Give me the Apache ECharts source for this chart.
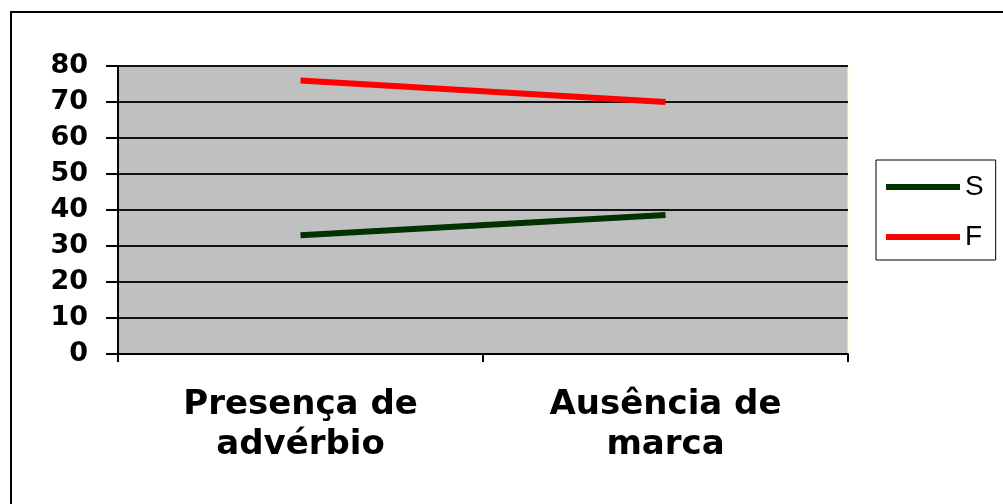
<!DOCTYPE html>
<html>
<head>
<meta charset="utf-8">
<script src="https://cdn.jsdelivr.net/npm/echarts@6/dist/echarts.min.js"></script>
<style>
html,body{margin:0;padding:0;background:#fff;}
#c{width:1003px;height:504px;}
</style>
</head>
<body>
<div id="c"></div>
<script>
var categories = ['Presença de\nadvérbio', 'Ausência de\nmarca'];
var seriesS = [33, 38.6];
var seriesF = [76, 70];
var yTicks = {min: 0, max: 80, interval: 10};

var chart = echarts.init(document.getElementById('c'), null, {renderer: 'canvas'});
chart.setOption({
  animation: false,
  backgroundColor: '#ffffff',
  graphic: [{
    type: 'rect',
    shape: {x: 11, y: 12, width: 1100, height: 600},
    style: {fill: 'none', stroke: '#000', lineWidth: 2},
    z: 100
  }],
  grid: {
    left: 118, right: 155, top: 66, bottom: 150,
    show: true, backgroundColor: '#C0C0C0',
    borderColor: '#FFFFD0', borderWidth: 1
  },
  legend: {
    orient: 'vertical',
    left: 876, top: 160,
    padding: [13, 12, 9, 10],
    itemGap: 22,
    itemWidth: 74, itemHeight: 6,
    itemStyle: {borderWidth: 0},
    icon: 'rect',
    borderColor: '#000', borderWidth: 1,
    textStyle: {fontFamily: 'Liberation Sans', fontSize: 28, color: '#000', lineHeight: 28},
    data: ['S', 'F']
  },
  xAxis: {
    type: 'category',
    data: categories,
    boundaryGap: true,
    axisLine: {lineStyle: {color: '#000', width: 2}},
    axisTick: {show: true, length: 8, lineStyle: {color: '#000', width: 2}},
    axisLabel: {
      fontFamily: 'DejaVu Sans', fontWeight: 'bold', fontSize: 34,
      lineHeight: 40, color: '#000', margin: 31, interval: 0
    }
  },
  yAxis: {
    type: 'value',
    min: yTicks.min, max: yTicks.max, interval: yTicks.interval,
    axisLine: {show: true, lineStyle: {color: '#000', width: 2}},
    axisTick: {show: true, length: 12, lineStyle: {color: '#000', width: 2}},
    splitLine: {show: true, lineStyle: {color: '#111', width: 2}},
    axisLabel: {
      fontFamily: 'DejaVu Sans', fontWeight: 'bold', fontSize: 27,
      color: '#000', margin: 30, padding: [3, 0, 0, 0]
    }
  },
  series: [
    {name: 'S', type: 'line', data: seriesS, showSymbol: false, symbol: 'none',
     lineStyle: {color: '#003300', width: 6}, itemStyle: {color: '#003300'}, z: 5},
    {name: 'F', type: 'line', data: seriesF, showSymbol: false, symbol: 'none',
     lineStyle: {color: '#FF0000', width: 6}, itemStyle: {color: '#FF0000'}, z: 5}
  ]
});
</script>
</body>
</html>
